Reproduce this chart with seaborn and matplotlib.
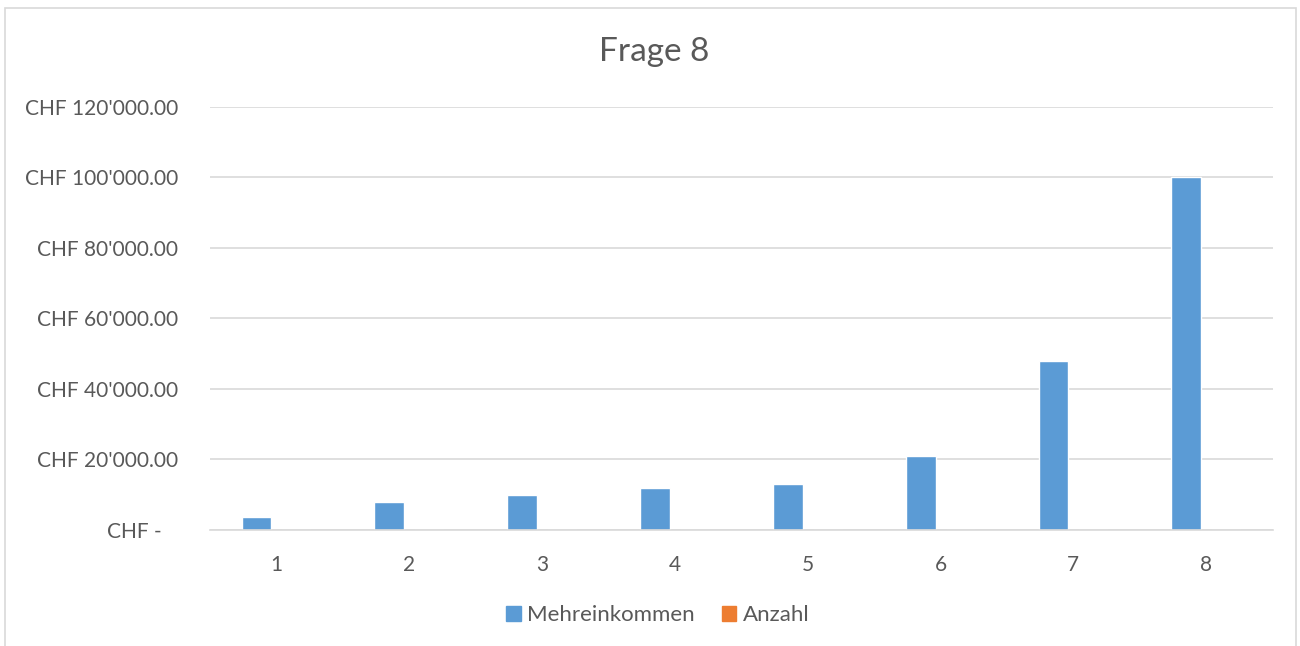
import matplotlib.pyplot as plt
import matplotlib.patches as mpatches
import seaborn as sns
import pandas as pd
from matplotlib.ticker import FuncFormatter

# Werte
fragen = ["1", "2", "3", "4", "5", "6", "7", "8"]
mehreinkommen = [3600, 8000, 10000, 12000, 13000, 21000, 48000, 100000]
anzahl = [12, 8, 5, 4, 3, 2, 1, 1]
serien = ["Mehreinkommen", "Anzahl"]
farben = ["#5B9BD5", "#ED7D31"]

df = pd.DataFrame({
    "frage": fragen * 2,
    "wert": mehreinkommen + anzahl,
    "serie": [serien[0]] * len(fragen) + [serien[1]] * len(fragen),
})

sns.set_style("white")
plt.rcParams["font.family"] = ["Lato", "DejaVu Sans"]

fig = plt.figure(figsize=(13, 6.46), dpi=100)
ax = fig.add_axes([0.1615, 0.1796, 0.8175, 0.6548])

sns.barplot(data=df, x="frage", y="wert", hue="serie", palette=farben,
            width=0.6, gap=0.25, ax=ax, legend=False, saturation=1)

ax.set_ylim(0, 120000)
ax.set_yticks(range(0, 120001, 20000))

def chf(v, pos):
    if v == 0:
        return "CHF -   "
    return "CHF " + f"{int(v):,}".replace(",", "'") + ".00"

ax.yaxis.set_major_formatter(FuncFormatter(chf))
ax.grid(axis="y", color="#D9D9D9", linewidth=1.2)
ax.set_axisbelow(True)
for s in ["left", "right", "top"]:
    ax.spines[s].set_visible(False)
ax.spines["bottom"].set_color("#D9D9D9")
ax.spines["bottom"].set_linewidth(1.2)
ax.tick_params(axis="both", length=0, labelsize=15, labelcolor="#595959")
ax.tick_params(axis="y", pad=23)
ax.tick_params(axis="x", pad=18)
ax.set_xlabel("")
ax.set_ylabel("")

fig.text(0.503, 0.919, "Frage 8", ha="center", va="center",
         fontsize=24, color="#595959")

handles = [mpatches.Patch(color=c, label=l) for c, l in zip(farben, serien)]
fig.legend(handles=handles, loc="center", bbox_to_anchor=(0.506, 0.048),
           ncol=2, frameon=False, fontsize=16, labelcolor="#595959",
           handlelength=0.65, handleheight=0.65, handletextpad=0.3,
           columnspacing=1.2)

# Rahmen um das Diagramm
fig.patches.append(mpatches.Rectangle((0.004, -0.01), 0.993, 0.998,
                                       transform=fig.transFigure, fill=False,
                                       edgecolor="#D9D9D9", linewidth=1.2))

fig.savefig("out.png", dpi=100, facecolor="white")
